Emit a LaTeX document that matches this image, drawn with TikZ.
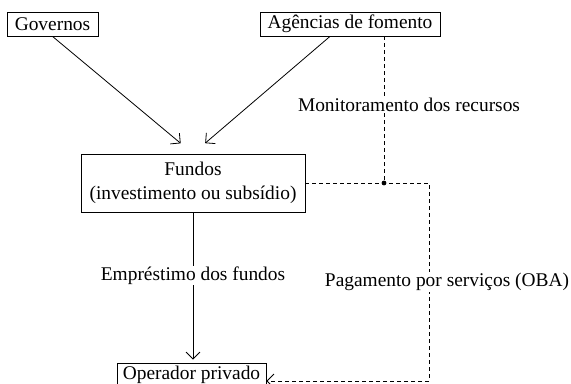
\documentclass[tikz,border=0pt]{standalone}
\usepackage{fontspec}
\setmainfont{Liberation Serif}
\usetikzlibrary{arrows.meta}
\begin{document}
\begin{tikzpicture}[x=0.5pt, y=-0.5pt, font=\fontsize{9.7pt}{11.8pt}\selectfont,
    >={Straight Barb[length=3.5pt,width=7pt]}, line width=0.4pt]
    \tikzstyle{box}=[draw, inner xsep=2.5pt, inner ysep=1.5pt, minimum height=12pt];
    \tikzstyle{lbl}=[fill=white, inner xsep=1pt, inner ysep=0.5pt];
    \tikzstyle{dsh}=[dash pattern=on 2pt off 1.5pt];

    \useasboundingbox (0,0) rectangle (571,384);

    \node (gov) [box, minimum width=45.5pt] at (52.5,24) {Governos};
    \node (ag) [box, minimum width=90pt] at (350,24) {Agências de fomento};
    \node (fun) [box, align=center, minimum width=112pt, minimum height=29pt] at (193,183)
        {Fundos\\(investimento ou subsídio)};
    \node (op) [box, minimum width=74.5pt] at (191.5,375) {Operador privado};

    \coordinate (junc) at ([xshift=17pt]ag.south |- fun.east);
    \coordinate (turn) at (429,183);
    \coordinate (foot) at (429,381);

    \draw[->, shorten >=8pt] (gov.south) -- (fun.north);
    \draw[->, shorten >=8pt] ([xshift=-10pt]ag.south) -- (fun.north);
    \draw[->, shorten >=1.5pt] (fun.south) --
        node[lbl, pos=0.42] {Empréstimo dos fundos} (fun.south |- op.north);

    \draw[dsh] ([xshift=17pt]ag.south) --
        node[lbl, pos=0.47, xshift=12.5pt] {Monitoramento dos recursos} (junc);
    \draw[dsh] (fun.east) -- (turn) --
        node[lbl, xshift=9pt] {Pagamento por serviços (OBA)} (foot);
    \draw[dsh, ->] (foot) -- (foot -| op.east);
    \fill (junc) circle (1.2pt);
\end{tikzpicture}
\end{document}
